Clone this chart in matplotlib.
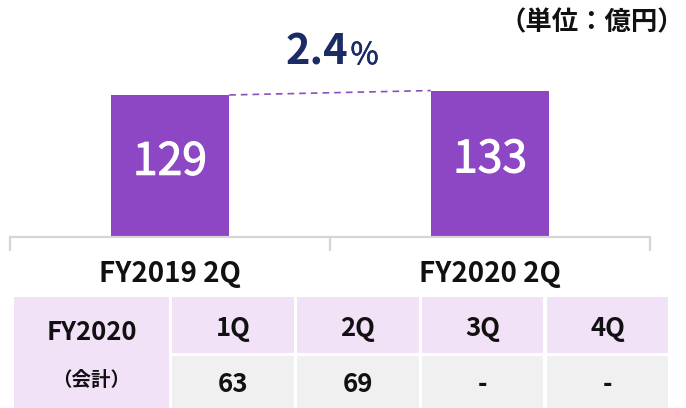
import matplotlib
matplotlib.use("Agg")
import matplotlib.pyplot as plt
from matplotlib.patches import Rectangle
import matplotlib.patheffects as pe
import matplotlib.transforms as mtransforms

plt.rcParams["font.family"] = ["Noto Sans CJK JP", "DejaVu Sans"]

# data
periods = ["FY2019 2Q", "FY2020 2Q"]
values = [129, 133]
growth = "2.4"
quarters = ["1Q", "2Q", "3Q", "4Q"]
quarter_values = ["63", "69", "-", "-"]
row_title = "FY2020"
row_sub = "（会計）"
unit = "（単位：億円）"

PURPLE = "#8E47C4"
NAVY = "#1B2B66"
LAVENDER = "#F1E2F7"
GREY = "#F0F0F0"

W, H = 686, 408
fig = plt.figure(figsize=(W / 100, H / 100), dpi=100)


def px(x0, y0, x1, y1):
    # pixel box (top-left origin) -> figure fraction rect
    return [x0 / W, 1 - y1 / H, (x1 - x0) / W, (y1 - y0) / H]


# bar chart
ax = fig.add_axes(px(10, 30, 650, 237))
xs = range(len(values))
width = 0.37
ax.bar(xs, values, width=width, color=PURPLE, zorder=2)
ax.set_xlim(-0.5, 1.5)
ax.set_ylim(0, 188)

# white numbers inside the bars, slightly heavier than regular
for i, v in enumerate(values):
    ax.text(i, v * 0.53, str(v), ha="center", va="center", color="white",
            fontsize=32,
            path_effects=[pe.withStroke(linewidth=0.8, foreground="white")])

# dashed connector between bar tops
ax.plot([0 + width / 2, 1 - width / 2], values, ls=(0, (4, 3)),
        color="#8A4FBE", lw=1.2)

ax.text(0.528, 0.835, growth, transform=ax.transAxes, ha="right",
        va="baseline", fontsize=30, fontweight="bold", color=NAVY)
ax.text(0.532, 0.835, "%", transform=ax.transAxes, ha="left",
        va="baseline", fontsize=22, color=NAVY,
        path_effects=[pe.withStroke(linewidth=0.4, foreground=NAVY)])

for s in ["top", "right", "left"]:
    ax.spines[s].set_visible(False)
ax.spines["bottom"].set_color("#D6D6D6")
ax.spines["bottom"].set_linewidth(1.6)
ax.set_yticks([])
ax.set_xticks([-0.5, 0.5, 1.5])
ax.set_xticklabels([])
ax.tick_params(axis="x", length=10, width=1.6, color="#D6D6D6")

trans = mtransforms.blended_transform_factory(ax.transData, ax.transAxes)
for i, p in enumerate(periods):
    ax.text(i, -0.18, p, transform=trans, ha="center", va="center",
            fontsize=20, fontweight="bold", color="#111111")

fig.text(684 / W, 1 - 23 / H, unit, ha="right", va="center",
         fontsize=19, fontweight="bold", color="#111111")

# table
tb = fig.add_axes([0, 0, 1, 1])
tb.set_xlim(0, W)
tb.set_ylim(H, 0)
tb.axis("off")

col_edges = [(14, 169), (172, 294), (297, 419), (422, 543), (547, 668)]
row_edges = [(297, 353), (356, 412)]

x0, x1 = col_edges[0]
tb.add_patch(Rectangle((x0, row_edges[0][0]), x1 - x0,
                       row_edges[1][1] - row_edges[0][0], color=LAVENDER, lw=0))
tb.text((x0 + x1) / 2, 333, row_title, ha="center", va="center",
        fontsize=18.5, fontweight="bold", color="#111111")
tb.text((x0 + x1) / 2, 381, row_sub, ha="center", va="center",
        fontsize=14, fontweight="bold", color="#111111")

for (c0, c1), q, qv in zip(col_edges[1:], quarters, quarter_values):
    r0, r1 = row_edges[0]
    tb.add_patch(Rectangle((c0, r0), c1 - c0, r1 - r0, color=LAVENDER, lw=0))
    tb.text((c0 + c1) / 2, 329, q, ha="center", va="center",
            fontsize=18.5, fontweight="bold", color="#111111")
    r0, r1 = row_edges[1]
    tb.add_patch(Rectangle((c0, r0), c1 - c0, r1 - r0, color=GREY, lw=0))
    tb.text((c0 + c1) / 2, 384, qv, ha="center", va="center",
            fontsize=18.5, fontweight="bold", color="#111111")

fig.savefig("out.png", dpi=100)
